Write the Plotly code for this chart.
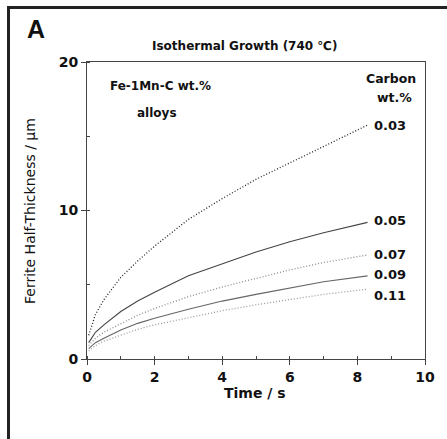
import plotly.graph_objects as go

# Time (s)
time_s = [0.05, 0.25, 0.5, 1.0, 1.5, 2.0, 3.0, 4.0, 5.0, 6.0, 7.0, 8.3]
# Ferrite half-thickness (um) per carbon content
c003 = [1.6, 3.0, 4.0, 5.5, 6.6, 7.6, 9.4, 10.8, 12.1, 13.2, 14.3, 15.75]
c005 = [1.1, 1.8, 2.3, 3.2, 3.9, 4.5, 5.6, 6.4, 7.2, 7.9, 8.5, 9.2]
c007 = [0.9, 1.4, 1.8, 2.4, 2.95, 3.4, 4.2, 4.85, 5.45, 6.0, 6.5, 7.0]
c009 = [0.7, 1.1, 1.4, 1.95, 2.4, 2.75, 3.35, 3.9, 4.35, 4.8, 5.2, 5.6]
c011 = [0.55, 0.9, 1.2, 1.6, 2.0, 2.3, 2.8, 3.25, 3.65, 4.0, 4.35, 4.7]
series_labels = ["0.03", "0.05", "0.07", "0.09", "0.11"]
label_y = [15.75, 9.35, 7.07, 5.7, 4.3]

x_ticks = [0, 2, 4, 6, 8, 10]
y_ticks = [0, 10, 20]

styles = [("#222222", "1px,2px", 1.3), ("#444444", "solid", 1.1), ("#8a8a8a", "1px,2px", 1.3),
          ("#666666", "solid", 1.1), ("#9a9a9a", "1px,2px", 1.3)]

FONT = "DejaVu Sans"
L, R, T, B = 87, 22, 62, 80
W, H = 447, 439
PW, PH = W - L - R, H - T - B

def px(x):
    return (x - L) / PW

def py(y):
    return (H - B - y) / PH

fig = go.Figure()
for vals, (col, dash, lw) in zip([c003, c005, c007, c009, c011], styles):
    fig.add_trace(go.Scatter(x=time_s, y=vals, mode="lines",
                             line=dict(color=col, dash=dash, width=lw),
                             showlegend=False, hoverinfo="skip"))

ann = []
for lab, yv in zip(series_labels, label_y):
    ann.append(dict(x=8.43, y=yv, xref="x", yref="y", text=lab, showarrow=False,
                    xanchor="left", yanchor="middle",
                    font=dict(family=FONT, size=13, color="#111", weight="bold")))

def ptext(text, x, y, size, xanchor="center", weight="bold", family=FONT, angle=0):
    ann.append(dict(x=px(x), y=py(y), xref="paper", yref="paper", text=text,
                    showarrow=False, xanchor=xanchor, yanchor="middle", textangle=angle,
                    font=dict(family=family, size=size, color="#111", weight=weight)))

ptext("A", 36, 29, 25, family="Liberation Sans")
ptext("Isothermal Growth (740 ℃)", 244, 46, 12)
ptext("Fe-1Mn-C wt.%", 108, 86, 12, xanchor="left")
ptext("alloys", 135, 113, 12, xanchor="left")
ptext("Carbon", 418, 78, 12.5, xanchor="right")
ptext("wt.%", 414, 97, 12.5, xanchor="right")
ptext("Time / s", 255, 393, 14)
ptext("Ferrite Half-Thickness / μm", 30, 211, 14, weight="normal", angle=-90)

fig.update_layout(
    width=W, height=H,
    margin=dict(l=L, r=R, t=T, b=B),
    paper_bgcolor="white", plot_bgcolor="white",
    annotations=ann,
    shapes=[
        dict(type="line", xref="paper", yref="paper", x0=px(8.5), x1=px(8.5),
             y0=py(6), y1=py(445), line=dict(color="#222", width=3)),
        dict(type="line", xref="paper", yref="paper", x0=px(7), x1=px(450),
             y0=py(7.5), y1=py(7.5), line=dict(color="#222", width=3)),
    ],
)
axis_common = dict(showgrid=False, zeroline=False, showline=True, linecolor="#444",
                   linewidth=1, mirror=True, ticks="outside", ticklen=5,
                   tickcolor="#444",
                   tickfont=dict(family=FONT, size=14, color="#111", weight="bold"))
fig.update_xaxes(range=[0, 10], tickvals=x_ticks,
                 minor=dict(ticks="inside", ticklen=3, dtick=1, tickcolor="#444"),
                 **axis_common)
fig.update_yaxes(range=[0, 20], tickvals=y_ticks,
                 minor=dict(ticks="inside", ticklen=3, dtick=5, tickcolor="#444"),
                 **axis_common)

fig.write_html("out.html")
